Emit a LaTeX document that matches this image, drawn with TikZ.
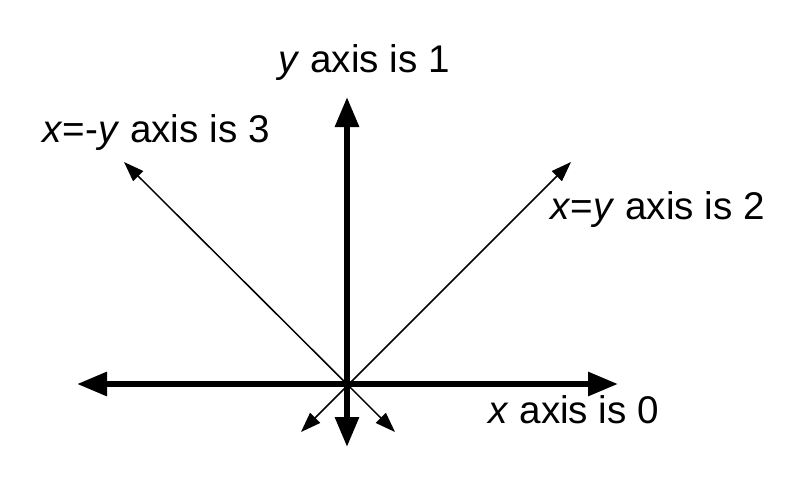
\documentclass[tikz,border=0pt]{standalone}
\usepackage{fontspec}
\setmainfont{Liberation Sans}
\usetikzlibrary{arrows.meta}
\tikzset{
  bigaxis/.style={line width=3pt,{Triangle[length=15pt,width=11.5pt]}-{Triangle[length=15pt,width=11.5pt]}},
  diagaxis/.style={line width=0.75pt,{Triangle[length=10pt,width=7pt]}-{Triangle[length=10pt,width=7pt]}},
  axislabel/.style={anchor=base west,inner sep=0pt,font=\fontsize{19.3}{23}\selectfont}
}
\begin{document}
\begin{tikzpicture}[x=0.5pt,y=-0.5pt]
  \useasboundingbox (0,0) rectangle (805,488);
  \coordinate (o) at (347,384);
  \coordinate (xl) at (77,384);
  \coordinate (xr) at (618,384);
  \coordinate (yb) at (347,447);
  \coordinate (yt) at (347,97);
  \coordinate (dl) at (301,432);
  \coordinate (dr) at (571,162);
  \coordinate (al) at (124,162);
  \coordinate (ar) at (395,432);
  \draw[diagaxis] (dl) -- (dr);
  \draw[diagaxis] (al) -- (ar);
  \draw[bigaxis] (xl) -- (xr);
  \draw[bigaxis] (yb) -- (yt);
  \node[axislabel] (ylab) at (278,72) {\textit{y} axis is 1};
  \node[axislabel] (alab) at (42,142) {\textit{x}=-\textit{y} axis is 3};
  \node[axislabel] (dlab) at (550,219) {\textit{x}=\textit{y} axis is 2};
  \node[axislabel] (xlab) at (488,423) {\textit{x} axis is 0};
\end{tikzpicture}
\end{document}
